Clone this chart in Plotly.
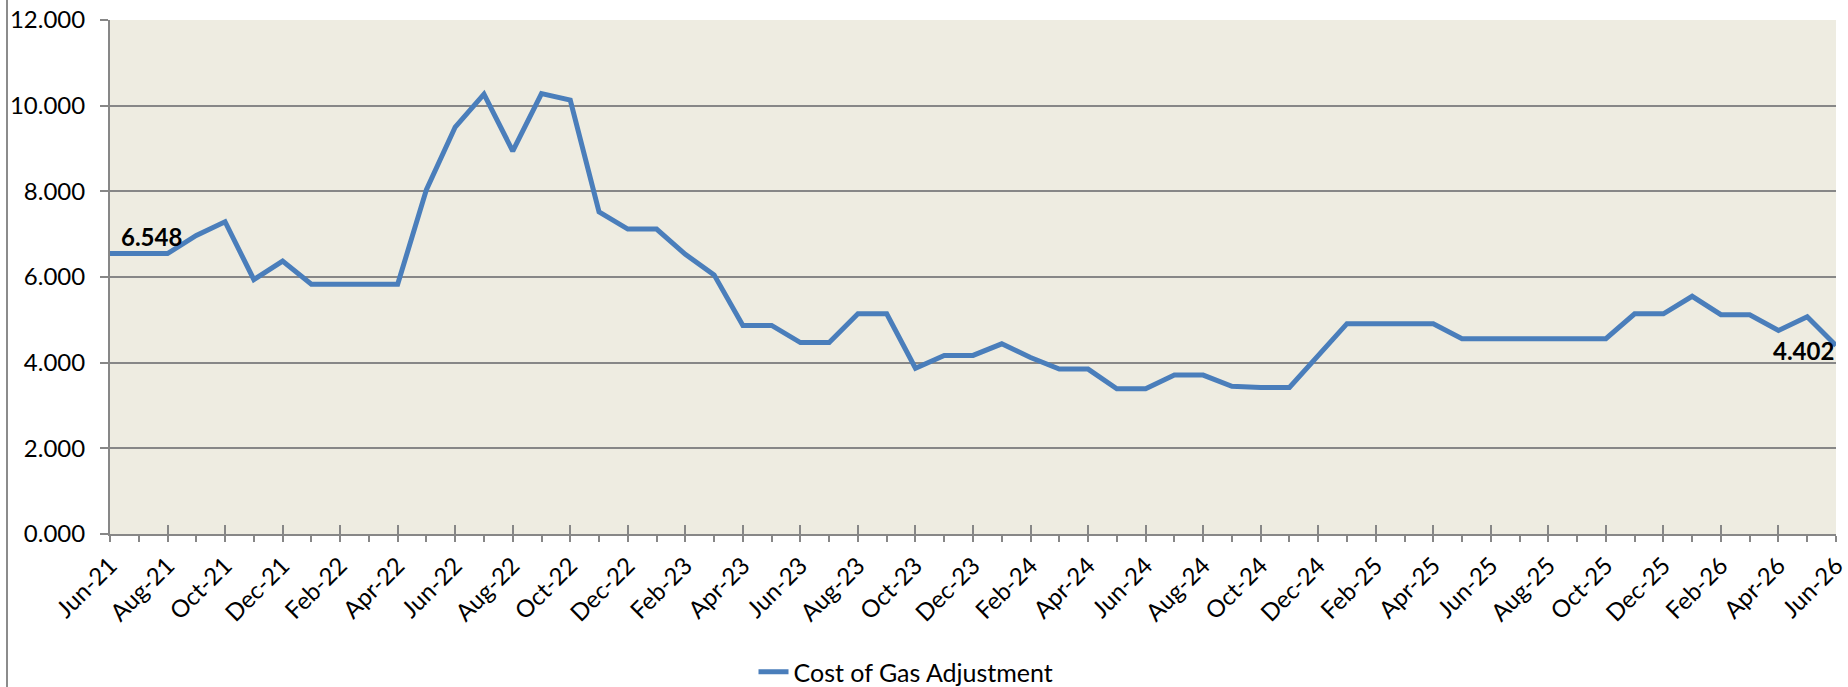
import plotly.graph_objects as go

# Monthly cost of gas adjustment, Jun-21 .. Jun-26
months = [
    "Jun-21", "Jul-21", "Aug-21", "Sep-21", "Oct-21", "Nov-21", "Dec-21",
    "Jan-22", "Feb-22", "Mar-22", "Apr-22", "May-22", "Jun-22", "Jul-22",
    "Aug-22", "Sep-22", "Oct-22", "Nov-22", "Dec-22", "Jan-23", "Feb-23",
    "Mar-23", "Apr-23", "May-23", "Jun-23", "Jul-23", "Aug-23", "Sep-23",
    "Oct-23", "Nov-23", "Dec-23", "Jan-24", "Feb-24", "Mar-24", "Apr-24",
    "May-24", "Jun-24", "Jul-24", "Aug-24", "Sep-24", "Oct-24", "Nov-24",
    "Dec-24", "Jan-25", "Feb-25", "Mar-25", "Apr-25", "May-25", "Jun-25",
    "Jul-25", "Aug-25", "Sep-25", "Oct-25", "Nov-25", "Dec-25", "Jan-26",
    "Feb-26", "Mar-26", "Apr-26", "May-26", "Jun-26",
]
cga = [
    6.548, 6.548, 6.548, 6.97, 7.29, 5.94, 6.37,
    5.83, 5.83, 5.83, 5.83, 8.04, 9.50, 10.27,
    8.94, 10.28, 10.13, 7.52, 7.12, 7.12, 6.53,
    6.05, 4.87, 4.87, 4.47, 4.47, 5.14, 5.14,
    3.87, 4.17, 4.17, 4.44, 4.12, 3.85, 3.85,
    3.39, 3.39, 3.71, 3.71, 3.45, 3.42, 3.42,
    4.15, 4.91, 4.91, 4.91, 4.91, 4.56, 4.56,
    4.56, 4.56, 4.56, 4.56, 5.14, 5.14, 5.55,
    5.12, 5.12, 4.75, 5.07, 4.402,
]
series_name = "Cost of Gas Adjustment"

FONT = "Lato, 'Open Sans', sans-serif"
GRID = "#878787"
LINE = "#4A7EBB"
n = len(months)

# plot-area geometry in pixels
W, H = 1848, 687
L, R, T, B = 110, 12, 20, 153
PW, PH = W - L - R, H - T - B


def px_x(x):
    return (x - L) / PW


def px_y(y):
    return (H - B - y) / PH


fig = go.Figure()
fig.add_trace(go.Scatter(
    x=months, y=cga, mode="lines", name=series_name,
    line=dict(color=LINE, width=5),
    showlegend=True,
))

# value labels on first and last point
fig.add_annotation(x=months[0], y=cga[0], text=f"<b>{cga[0]:.3f}</b>",
                   showarrow=False, xanchor="center", yanchor="middle",
                   xshift=41, yshift=17, font=dict(size=24, color="black", family=FONT))
fig.add_annotation(x=months[-1], y=cga[-1], text=f"<b>{cga[-1]:.3f}</b>",
                   showarrow=False, xanchor="center", yanchor="middle",
                   xshift=-33, yshift=-5, font=dict(size=24, color="black", family=FONT))

# chart area border on the left
fig.add_shape(type="line", xref="paper", yref="paper",
              x0=px_x(7), x1=px_x(7), y0=px_y(-5), y1=px_y(692),
              line=dict(color="#8C8C8C", width=2))

tickvals = months
ticktext = [m if i % 2 == 0 else "" for i, m in enumerate(months)]

fig.update_layout(
    width=W, height=H,
    margin=dict(l=L, r=R, t=T, b=B, autoexpand=False),
    paper_bgcolor="white",
    plot_bgcolor="#EEECE1",
    font=dict(family=FONT, size=24, color="black"),
    showlegend=True,
    legend=dict(orientation="h", x=px_x(906), y=px_y(672), xanchor="center", yanchor="middle",
                font=dict(size=25, family=FONT), bgcolor="rgba(0,0,0,0)"),
    xaxis=dict(
        type="category", range=[0, n - 1], automargin=False,
        tickmode="array", tickvals=tickvals, ticktext=ticktext,
        tickangle=-45, ticks="outside", ticklen=6, tickwidth=1.5, tickcolor=GRID,
        showline=True, linecolor=GRID, linewidth=2,
        showgrid=False, zeroline=False,
        tickfont=dict(size=24, family=FONT),
    ),
    xaxis2=dict(
        overlaying="x", range=[0, n - 1], type="linear",
        tickmode="linear", tick0=0, dtick=2,
        ticks="inside", ticklen=9, tickwidth=1.5, tickcolor=GRID,
        showticklabels=False, showgrid=False, zeroline=False, showline=False,
        side="bottom", anchor="y",
    ),
    yaxis=dict(
        range=[0, 12], tickmode="linear", tick0=0, dtick=2, tickformat=".3f",
        automargin=False,
        ticks="outside", ticklen=8, tickwidth=1.5, tickcolor=GRID,
        showline=True, linecolor=GRID, linewidth=2,
        showgrid=True, gridcolor=GRID, gridwidth=1.5,
        zeroline=False, ticklabelstandoff=10,
        tickfont=dict(size=24, family=FONT),
    ),
)

# empty helper so the second x axis is drawn
fig.add_trace(go.Scatter(x=[0, n - 1], y=[None, None], xaxis="x2", yaxis="y",
                         mode="lines", showlegend=False, hoverinfo="skip"))

fig.write_html("out.html")
